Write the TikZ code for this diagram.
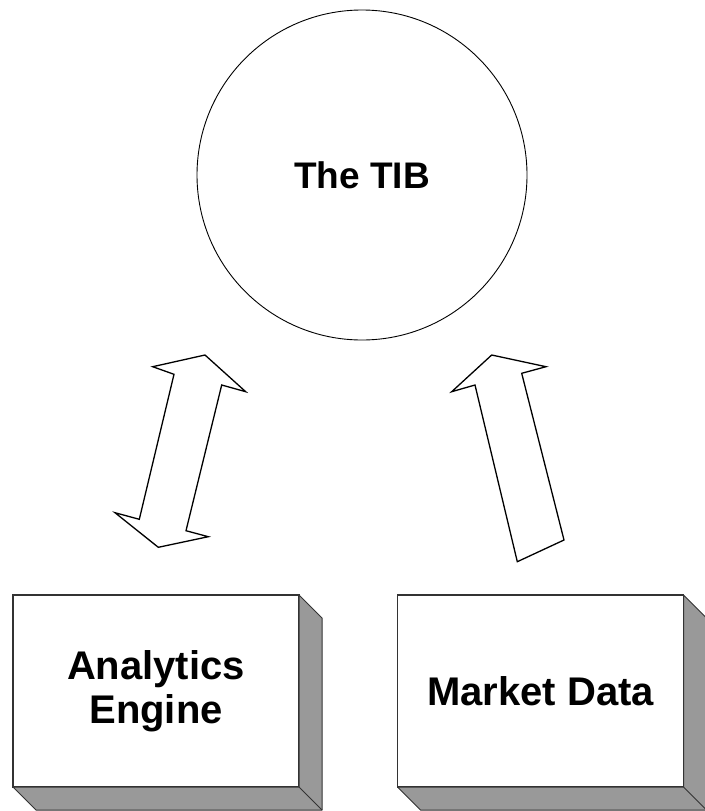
\documentclass[tikz,border=0pt]{standalone}
\usepackage{fontspec}
\setmainfont{Liberation Sans}
\begin{document}
\begin{tikzpicture}[x=1pt, y=-1pt,
        face/.style={draw=black!80, line width=1.5pt, fill=white, outer sep=0pt, minimum width=286pt, minimum height=192pt, align=center, font=\fontsize{40}{44}\selectfont\bfseries},
        shade/.style={draw=black!80, line width=1pt, fill=black!40, line join=round},
        blockarrow/.style={draw, line width=1.3pt, fill=white}]
        \useasboundingbox (0,0) rectangle (704,811);
        %the bus
        \node[draw, circle, line width=0.9pt, minimum size=330pt, font=\fontsize{37}{40}\selectfont\bfseries] (tib) at (362,175) {The TIB};
        %boxes
        \node[face] (engine) at (156,691) {Analytics\\Engine};
        \node[face] (market) at (540.5,691) {Market Data};
        \foreach \b in {engine, market} {
            \draw[shade] (\b.north east) -- ([shift={(23,23)}]\b.north east) -- ([shift={(23,23)}]\b.south east) -- ([shift={(23,23)}]\b.south west) -- (\b.south west) -- (\b.south east) -- cycle;
            \draw[shade] (\b.south east) -- ([shift={(23,23)}]\b.south east);
        }
        %arrows
        \draw[blockarrow] (205,355) -- (245.7,391.7) -- (221.7,385) -- (186,530.7) -- (208.3,536.7) -- (158.3,547.3) -- (115,512.7) -- (139.3,519.3) -- (174,374.3) -- (152.7,366.7) -- cycle;
        \draw[blockarrow] (491.7,355) -- (546,366.7) -- (521.7,373.3) -- (564,540) -- (517.3,561.7) -- (475,385) -- (451.7,391.7) -- cycle;
    \end{tikzpicture}
\end{document}
